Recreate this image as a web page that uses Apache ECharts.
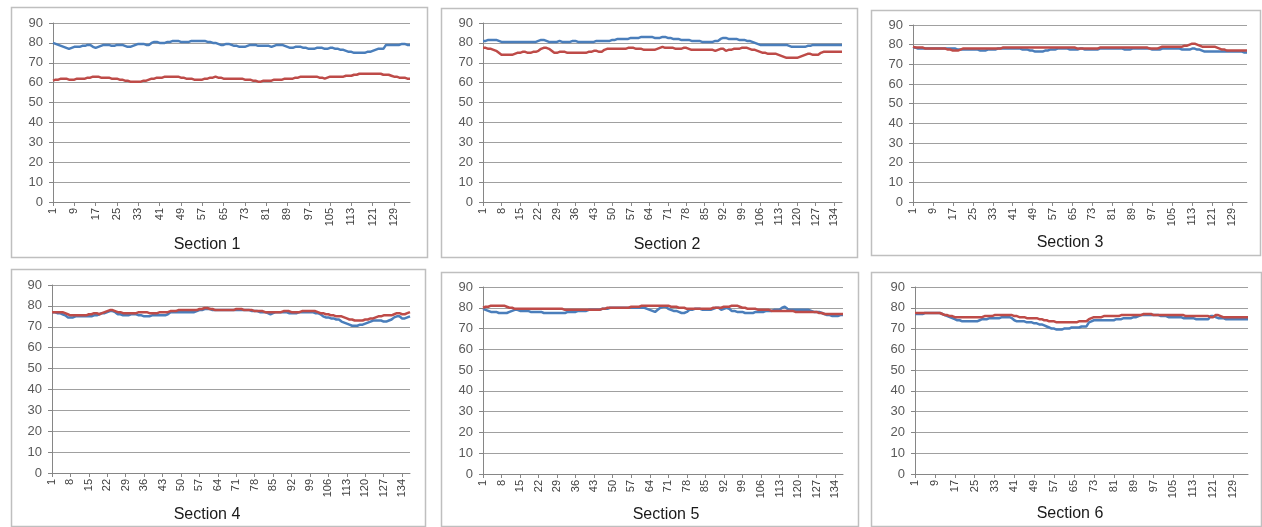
<!DOCTYPE html>
<html><head><meta charset="utf-8">
<script src="https://cdn.jsdelivr.net/npm/echarts@6/dist/echarts.min.js"></script>
<style>html,body{margin:0;padding:0;background:#fff}#c{width:1262px;height:527px}</style>
</head><body><div id="c"></div>
<script>
// ---- data ----
const sectionTitles = ["Section 1","Section 2","Section 3","Section 4","Section 5","Section 6"];
const countS1 = 135, countS2 = 137, countS3 = 135, countS4 = 137, countS5 = 137, countS6 = 135;
const yTicks = {min: 0, max: 90, interval: 10};

const s1Blue = [80,79.5,79,78.5,78,77.5,77,77.5,78,78, 78,78.5,78.5,79,79,78,77.5,78,78.5,79, 79,79,78.5,78.5,79,79,79,78.5,78,78, 78.5,79,79.5,79.5,79.5,79,79,80,80.5,80.5, 80,80,80,80.5,80.5,81,81,81,80.5,80.5, 80.5,80.5,81,81,81,81,81,81,80.5,80.5, 80,80,79.5,79,79,79.5,79.5,79,78.5,78.5, 78,78,78,78.5,79,79,79,78.5,78.5,78.5, 78.5,78.5,78,78.5,79,79,79,78.5,78,77.5, 77.5,78,78,78,77.5,77.5,77,77,77,77.5, 77.5,77.5,77,77,77.5,77.5,77,77,76.5,76.5, 76,75.5,75.5,75,75,75,75,75,75.5,75.5, 76,76.5,77,77,77,79,79,79,79,79, 79,79.5,79.5,79,79];
const s1Red = [61,61.5,61.5,62,62,62,61.5,61.5,61.5,62, 62,62,62,62.5,62.5,63,63,63,62.5,62.5, 62.5,62.5,62,62,62,61.5,61.5,61,61,60.5, 60.5,60.5,60.5,60.5,61,61,61.5,62,62,62.5, 62.5,62.5,63,63,63,63,63,63,62.5,62.5, 62,62,62,61.5,61.5,61.5,61.5,62,62,62.5, 62.5,63,62.5,62.5,62,62,62,62,62,62, 62,62,61.5,61.5,61.5,61,61,60.5,60.5,61, 61,61,61,61.5,61.5,61.5,61.5,62,62,62, 62,62.5,62.5,63,63,63,63,63,63,63, 62.5,62.5,62,62.5,63,63,63,63,63,63, 63.5,63.5,63.5,64,64,64.5,64.5,64.5,64.5,64.5, 64.5,64.5,64.5,64.5,64,64,64,63.5,63,63, 62.5,62.5,62.5,62,62];

const s2Blue = [81,81,81.5,81.5,81.5,81.5,81,80.5,80.5,80.5, 80.5,80.5,80.5,80.5,80.5,80.5,80.5,80.5,80.5,80.5, 80.5,81,81.5,81.5,81,80.5,80.5,80.5,80.5,81, 80.5,80.5,80.5,80.5,81,81,80.5,80.5,80.5,80.5, 80.5,80.5,80.5,81,81,81,81,81,81,81.5, 81.5,82,82,82,82,82,82.5,82.5,82.5,82.5, 83,83,83,83,83,82.5,82.5,82.5,83,83, 82.5,82.5,82,82,82,81.5,81.5,81.5,81.5,81, 81,81,81,80.5,80.5,80.5,80.5,80.5,81,81, 82,82.5,82.5,82,82,82,82,81.5,81.5,81.5, 81,81,80.5,80,79.5,79,79,79,79,79, 79,79,79,79,79,79,78.5,78,78,78, 78,78,78,78.5,78.5,79,79,79,79,79, 79,79,79,79,79,79,79];
const s2Red = [77.5,77.5,77,77,76.5,76,75,74,74,74, 74,74,74.5,75,75,75.5,75.5,75,75,75.5, 75.5,76,77,77.5,77.5,77,76,75,75,75.5, 75.5,75.5,75,75,75,75,75,75,75,75, 75.5,75.5,76,76,75.5,75.5,76.5,77,77,77, 77,77,77,77,77,77.5,77.5,77.5,77,77, 77,76.5,76.5,76.5,76.5,76.5,77,77.5,78,77.5, 77.5,77.5,77.5,77,77,77,77.5,77.5,77,76.5, 76.5,76.5,76.5,76.5,76.5,76.5,76.5,76.5,76,76.5, 77,77,76,76.5,76.5,77,77,77,77.5,77.5, 77.5,77,76.5,76.5,76,75.5,75,75,74.5,74.5, 74.5,74.5,74,73.5,73,72.5,72.5,72.5,72.5,72.5, 73,73.5,74,74.5,74.5,74,74,74,75,75.5, 75.5,75.5,75.5,75.5,75.5,75.5,75.5];

const s3Blue = [78.5,78.5,78,78,78,78,78,78,78,78, 78,78,78,78,78,78,78,78,77.5,77.5, 77.5,77.5,77.5,77.5,77.5,77.5,77.5,77,77,77, 77.5,77.5,77.5,77.5,78,78,78,78,78,78, 78,78,78,78,77.5,77.5,77.5,77,77,76.5, 76.5,76.5,76.5,77,77,77.5,77.5,77.5,78,78, 78,78,78,77.5,77.5,77.5,77.5,78,78,77.5, 77.5,77.5,77.5,77.5,77.5,78,78,78,78,78, 78,78,78,78,78,77.5,77.5,77.5,78,78, 78,78,78,78,78,78,77.5,77.5,77.5,77.5, 78,78,78,78,78,78,78,78,77.5,77.5, 77.5,77.5,78,78,77.5,77.5,77,76.5,76.5,76.5, 76.5,76.5,76.5,76.5,76.5,76.5,76.5,76.5,76.5,76.5, 76.5,76.5,76.5,76,76];
const s3Red = [79,78.5,78.5,78.5,78.5,78,78,78,78,78, 78,78,78,78,77.5,77.5,77,77,77,77.5, 78,78,78,78,78,78,78,78,78,78, 78,78,78,78,78,78,78.5,78.5,78.5,78.5, 78.5,78.5,78.5,78.5,78.5,78.5,78.5,78.5,78.5,78.5, 78.5,78.5,78.5,78.5,78.5,78.5,78.5,78.5,78.5,78.5, 78.5,78.5,78.5,78.5,78.5,78.5,78,78,78,78, 78,78,78,78,78,78.5,78.5,78.5,78.5,78.5, 78.5,78.5,78.5,78.5,78.5,78.5,78.5,78.5,78.5,78.5, 78.5,78.5,78.5,78.5,78.5,78,78,78,78,78.5, 79,79,79,79,79,79,79,79,79,79.5, 79.5,80,80.5,80.5,80,79.5,79,79,79,79, 79,79,78.5,78,77.5,77.5,77,77,77,77, 77,77,77,77,77];

const s4Blue = [77,77,76.5,76.5,76,75.5,74.5,74.5,74.5,75, 75,75,75,75,75,75,75.5,75.5,76,76.5, 76.5,77,77.5,77.5,77,76,76,75.5,75.5,75.5, 76,76,76,75.5,75.5,75,75,75,75.5,75.5, 75.5,75.5,75.5,75.5,76,77,77,77,77,77, 77,77,77,77,77,77.5,78,78,78.5,78.5, 78.5,78,78,78,78,78,78,78,78,78, 78,78,78,78,78,78,77.5,77.5,77.5,77, 77,77,76.5,76,76.5,77,77,77,77,77, 76.5,76.5,76.5,76.5,77,77,77,77,77,77, 76.5,76.5,76,75,74.5,74.5,74,74,73.5,73.5, 72.5,72,71.5,71,70.5,70.5,70.5,71,71,71.5, 72,72.5,73,73,73,73,72.5,72.5,73,73.5, 74.5,75,75,74,74,74.5,75];
const s4Red = [77,77,77,77,77,76.5,76,75.5,75.5,75.5, 75.5,75.5,75.5,75.5,76,76,76.5,76.5,76,76.5, 77,77.5,78,78,77.5,77,77,76.5,76.5,76.5, 76.5,76.5,76.5,77,77,77,77,76.5,76.5,76.5, 76.5,77,77,77,77,77.5,77.5,77.5,78,78, 78,78,78,78,78,78,78.5,78.5,79,79, 78.5,78.5,78,78,78,78,78,78,78,78, 78.5,78.5,78.5,78,78,78,78,77.5,77.5,77.5, 77.5,77,77,77,77,77,77,77,77.5,77.5, 77.5,77,77,77,77,77.5,77.5,77.5,77.5,77.5, 77.5,77,76.5,76.5,76,76,75.5,75.5,75,75, 75,74.5,74,73.5,73.5,73,73,73,73,73.5, 73.5,74,74,74.5,75,75,75.5,75.5,75.5,75.5, 76,76.5,76.5,76,76,76.5,77];

const s5Blue = [79.5,79,78.5,78,78,78,77.5,77.5,77.5,77.5, 78,78.5,79,79,78.5,78.5,78.5,78.5,78,78, 78,78,78,77.5,77.5,77.5,77.5,77.5,77.5,77.5, 77.5,77.5,78,78,78,78,78.5,78.5,78.5,78.5, 79,79,79,79,79,79.5,79.5,79.5,80,80, 80,80,80,80,80,80,80,80,80,80, 80,80,79.5,79,78.5,78,79,80,80.5,80.5, 79.5,79,78.5,78.5,78,77.5,77.5,78,79,79, 79.5,79.5,79.5,79,79,79,79,79.5,80,80, 79,79.5,80,79.5,78.5,78.5,78,78,78,77.5, 77.5,77.5,77.5,78,78,78,78,78.5,78.5,78.5, 79,79,79,80,80.5,79.5,79,79,79,79, 79,79,79,79,78.5,78,78,78,77.5,77, 76.5,76.5,76,76,76,76.5,76.5];
const s5Red = [80,80.5,80.5,81,81,81,81,81,81,80.5, 80,80,79.5,79.5,79.5,79.5,79.5,79.5,79.5,79.5, 79.5,79.5,79.5,79.5,79.5,79.5,79.5,79.5,79.5,79.5, 79.5,79,79,79,79,79,79,79,79,79, 79,79,79,79,79,79.5,79.5,80,80,80, 80,80,80,80,80,80,80.5,80.5,80.5,80.5, 81,81,81,81,81,81,81,81,81,81, 81,80.5,80.5,80.5,80,80,80,79.5,79.5,79.5, 79.5,79.5,79.5,79.5,79.5,79.5,79.5,80,80,80, 80,80.5,80.5,80.5,81,81,81,80.5,80,80, 79.5,79.5,79.5,79.5,79,79,79,79,79,78.5, 78.5,78.5,78.5,78.5,78.5,78.5,78.5,78.5,78,78, 78,78,78,78,78,78,78,77.5,77.5,77, 77,77,77,77,77,77,77];

const s6Blue = [77,77,77,77,77.5,77.5,77.5,77.5,77.5,77.5, 77.5,77,76.5,76,75.5,75,74.5,74,74,73.5, 73.5,73.5,73.5,73.5,73.5,73.5,74,74.5,74.5,74.5, 75,75,75,75,75,75.5,75.5,75.5,75.5,75, 74,73.5,73.5,73.5,73.5,73,73,73,72.5,72.5, 72,72,71.5,71,70.5,70,70,69.5,69.5,69.5, 70,70,70,70.5,70.5,70.5,70.5,71,71,71, 73,73.5,74,74,74,74,74,74,74,74, 74,74.5,74.5,74.5,75,75,75,75,75.5,75.5, 76,76.5,76.5,76.5,76.5,76.5,76.5,76.5,76.5,76, 76,76,75.5,75.5,75.5,75.5,75.5,75.5,75,75, 75,75,75,74.5,74.5,74.5,74.5,74.5,74.5,76, 76,75.5,75,75,75,74.5,74.5,74.5,74.5,74.5, 74.5,74.5,74.5,74.5,74.5];
const s6Red = [77.5,77.5,77.5,77.5,77.5,77.5,77.5,77.5,77.5,77.5, 77.5,77,76.5,76.5,76,76,75.5,75.5,75.5,75.5, 75.5,75.5,75.5,75.5,75.5,75.5,75.5,75.5,76,76, 76,76,76.5,76.5,76.5,76.5,76.5,76.5,76.5,76.5, 76,76,75.5,75.5,75.5,75,75,75,75,75, 74.5,74.5,74,74,73.5,73.5,73.5,73,73,73, 73,73,73,73,73,73,73.5,73.5,73.5,73.5, 74.5,75,75.5,75.5,75.5,75.5,76,76,76,76, 76,76,76,76.5,76.5,76.5,76.5,76.5,76.5,76.5, 76.5,76.5,77,77,77,77,76.5,76.5,76.5,76.5, 76.5,76.5,76.5,76.5,76.5,76.5,76.5,76.5,76.5,76, 76,76,76,76,76,76,76,76,76,75.5, 75.5,76.5,76.5,76,75.5,75.5,75.5,75.5,75.5,75.5, 75.5,75.5,75.5,75.5,75.5];

const blueSeries = [s1Blue, s2Blue, s3Blue, s4Blue, s5Blue, s6Blue];
const redSeries  = [s1Red, s2Red, s3Red, s4Red, s5Red, s6Red];
const counts = [countS1, countS2, countS3, countS4, countS5, countS6];
const labelSteps = [8, 7, 8, 7, 7, 8];

// ---- layout (pixels) ----
const boxes = [
  {x:11,y:7,w:416,h:250}, {x:441,y:8,w:416,h:249}, {x:871,y:10,w:389,h:245},
  {x:11,y:269,w:414,h:257}, {x:441,y:272,w:417,h:254}, {x:871,y:272,w:390,h:254}
];
const grids = [
  {left:53,top:23,width:357,height:179}, {left:483,top:23,width:359,height:179}, {left:913,top:25,width:334,height:177},
  {left:52,top:285,width:358,height:188}, {left:483,top:287,width:360,height:187}, {left:915,top:287,width:333,height:187}
];
const titlePos = [{x:207,y:245},{x:667,y:245},{x:1070,y:243},{x:207,y:515},{x:666,y:515},{x:1070,y:514}];

const BLUE = '#4A7EBB', RED = '#BE4B48';
const option = {animation:false, backgroundColor:'#fff', grid:[], xAxis:[], yAxis:[], series:[], graphic:[]};

for (let i = 0; i < 6; i++) {
  const cats = Array.from({length: counts[i]}, (_, k) => String(k + 1));
  option.grid.push(Object.assign({containLabel:false}, grids[i]));
  option.xAxis.push({
    type:'category', gridIndex:i, data:cats, boundaryGap:false,
    axisLine:{lineStyle:{color:'#868686', width:1}},
    axisTick:{show:true, interval:labelSteps[i]-1, length:4, lineStyle:{color:'#868686'}},
    axisLabel:{interval:labelSteps[i]-1, rotate:90, fontSize:11, color:'#404040', margin:6, fontFamily:'Liberation Sans'},
    splitLine:{show:false}
  });
  option.yAxis.push({
    type:'value', gridIndex:i, min:yTicks.min, max:yTicks.max, interval:yTicks.interval,
    axisLine:{show:true, lineStyle:{color:'#868686', width:1}},
    axisTick:{show:true, length:4, lineStyle:{color:'#868686'}},
    axisLabel:{fontSize:13, color:'#595959', margin:10, fontFamily:'Liberation Sans'},
    splitLine:{show:true, lineStyle:{color:'#A0A0A0', width:1}}
  });
  option.series.push({type:'line', xAxisIndex:i, yAxisIndex:i, data:blueSeries[i], showSymbol:false,
    lineStyle:{color:BLUE, width:2.5}, itemStyle:{color:BLUE}, z:3});
  option.series.push({type:'line', xAxisIndex:i, yAxisIndex:i, data:redSeries[i], showSymbol:false,
    lineStyle:{color:RED, width:2.5}, itemStyle:{color:RED}, z:(i===0||i===1)?3:4});
  option.graphic.push({type:'rect', shape:{x:boxes[i].x+0.5, y:boxes[i].y+0.5, width:boxes[i].w, height:boxes[i].h},
    style:{fill:'none', stroke:'#BFBFBF', lineWidth:1.5}, z:-1, silent:true});
  option.graphic.push({type:'text', x:titlePos[i].x, y:titlePos[i].y,
    style:{text:sectionTitles[i], fill:'#1a1a1a', font:'16px "Liberation Sans"', align:'center', verticalAlign:'middle'}});
}
const chart = echarts.init(document.getElementById('c'), null, {renderer:'canvas'});
chart.setOption(option);
</script></body></html>
